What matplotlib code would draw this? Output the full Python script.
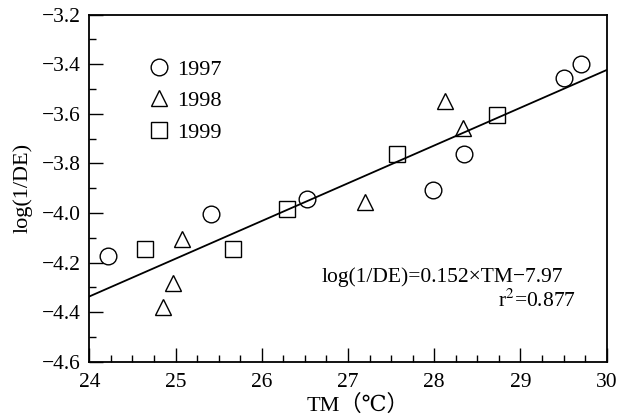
import matplotlib
matplotlib.use("Agg")
import matplotlib.pyplot as plt
import numpy as np
from matplotlib.ticker import MultipleLocator
from matplotlib.lines import Line2D

plt.rcParams['font.family'] = ['Liberation Serif', 'DejaVu Serif', 'Noto Sans CJK SC']
plt.rcParams['mathtext.fontset'] = 'stix'

# Data
tm_1997 = [24.22, 25.41, 26.52, 27.98, 28.34, 29.51, 29.70]
y_1997 = [-4.173, -4.004, -3.945, -3.907, -3.762, -3.457, -3.400]
tm_1998 = [24.86, 24.97, 25.08, 27.20, 28.13, 28.33]
y_1998 = [-4.38, -4.281, -4.106, -3.957, -3.547, -3.656]
tm_1999 = [24.65, 25.67, 26.29, 27.57, 28.73]
y_1999 = [-4.144, -4.144, -3.985, -3.762, -3.605]
fit_slope = 0.1523
fit_intercept = -7.992
eq_text = "log(1/DE)=0.152×TM−7.97"
r2_text = "r$^{2}$=0.877"

fig = plt.figure(figsize=(6.29, 4.18), dpi=100)
ax = fig.add_axes([0.142, 0.1347, 0.8226, 0.8301])

mk = dict(linestyle='none', markerfacecolor='none', markeredgecolor='black', markeredgewidth=1.0)
ax.plot(tm_1997, y_1997, marker='o', markersize=12, **mk)
ax.plot(tm_1998, y_1998, marker='^', markersize=12, **mk)
ax.plot(tm_1999, y_1999, marker='s', markersize=12, **mk)

xl = np.array([24, 30])
ax.plot(xl, fit_slope * xl + fit_intercept, color='black', linewidth=1.3)

ax.set_xlim(24, 30)
ax.set_ylim(-4.6, -3.2)
ax.xaxis.set_major_locator(MultipleLocator(1))
ax.xaxis.set_minor_locator(MultipleLocator(0.25))
ax.yaxis.set_major_locator(MultipleLocator(0.2))
ax.yaxis.set_minor_locator(MultipleLocator(0.1))
ax.tick_params(which='both', direction='in', labelsize=15.5, width=1.0)
ax.tick_params(which='major', length=10)
ax.tick_params(which='minor', length=5)
ax.tick_params(axis='x', which='major', pad=8)
ax.tick_params(axis='y', which='major', pad=6)
ax.yaxis.set_major_formatter(matplotlib.ticker.FuncFormatter(lambda v, p: f"{v:.1f}".replace('-', '−')))
for s in ax.spines.values():
    s.set_linewidth(1.3)

ax.set_xlabel("TM（℃）", fontsize=16)
ax.xaxis.set_label_coords(0.52, -0.095)
ax.set_ylabel("log(1/DE)", fontsize=16)
ax.yaxis.set_label_coords(-0.11, 0.5)

handles = [Line2D([], [], marker=m, markersize=12, **mk) for m in ['o', '^', 's']]
ax.legend(handles, ['1997', '1998', '1999'], loc='upper left', bbox_to_anchor=(0.075, 0.93),
          frameon=False, fontsize=16, handlelength=1.0, handletextpad=0.3, labelspacing=0.5)

ax.text(0.916, 0.245, eq_text, transform=ax.transAxes, ha='right', va='center', fontsize=15.5)
ax.text(0.94, 0.175, r2_text, transform=ax.transAxes, ha='right', va='center', fontsize=15.5)

fig.savefig("out.png", dpi=100)
